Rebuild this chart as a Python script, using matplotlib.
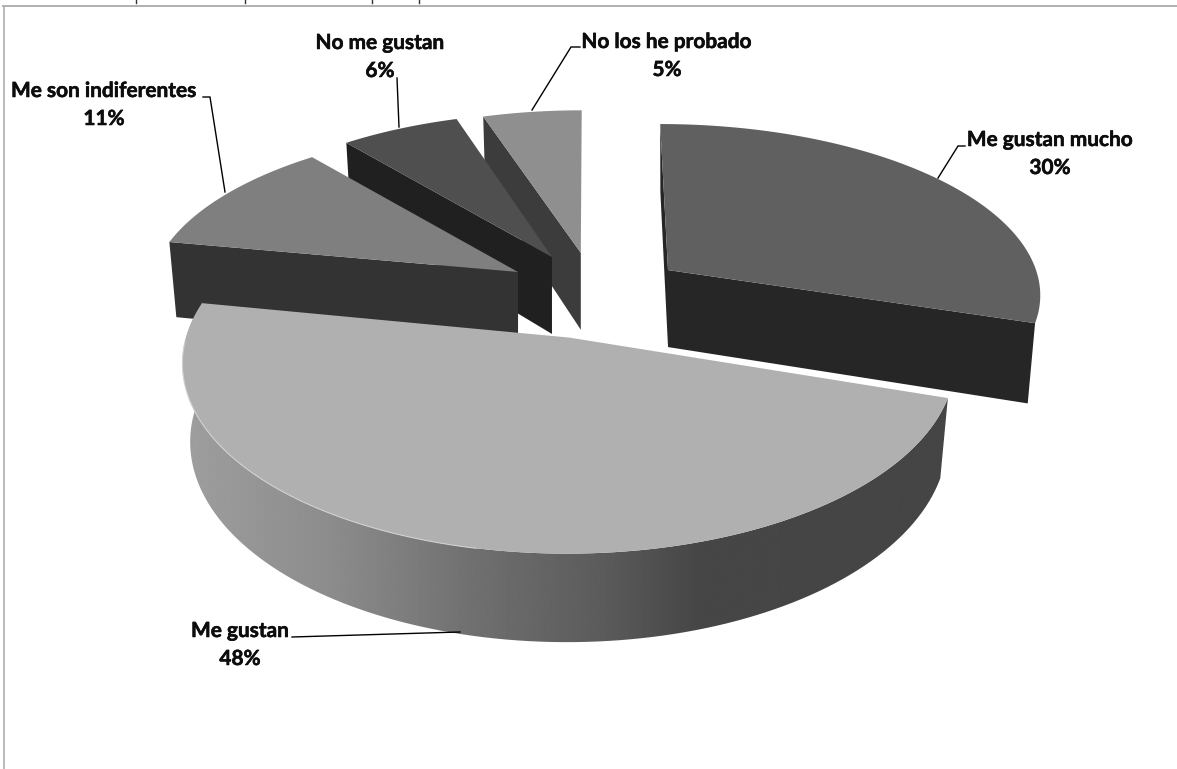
import numpy as np
import matplotlib
matplotlib.use("Agg")
import matplotlib.pyplot as plt
import matplotlib.patheffects as pe
from matplotlib.patches import PathPatch
from matplotlib.path import Path

# Survey answers, clockwise from twelve o'clock
categories = ["Me gustan mucho", "Me gustan", "Me son indiferentes", "No me gustan", "No los he probado"]
shares = [30, 48, 11, 6, 5]

# Appearance of each wedge
top_colors = ["#606060", "#b0b0b0", "#7f7f7f", "#4f4f4f", "#8f8f8f"]
wall_colors = ["#262626", "#4a4a4a", "#333333", "#202020", "#3c3c3c"]

# Projection of the tilted pie onto the canvas
CENTER = (600.0, 298.0)
EXPLODE_BASE = (372.0, 176.0)
EXPLODE_X = [0.226, 0.335, 0.256, 0.268, 0.330]
EXPLODE_Y = [0.270, 0.232, 0.290, 0.266, 0.260]
SCALE_X = [368.0, 383.0, 365.0, 360.0, 358.0]
SCALE_Y = [165.0, 188.0, 164.0, 163.0, 161.0]
PERSPECTIVE = 0.13
VANISH_X = 590.0
VANISH_PULL = 0.10
DEPTH = 77.0
BASE_SHRINK = 0.98

fig = plt.figure(figsize=(11.77, 7.69), dpi=100)
ax = fig.add_axes([0, 0, 1, 1])
ax.set_xlim(0, 1177)
ax.set_ylim(769, 0)
ax.axis("off")

# Chart frame
ax.plot([3.5, 3.5], [769, 6], color="#b4b4b4", lw=1.3)
ax.plot([3, 1177], [6, 6], color="#b0b0b0", lw=1.4)

# Tails of the clipped heading along the top edge
for x in [136, 245, 372, 419]:
    ax.plot([x, x], [0, 3.2], color="#333333", lw=1.0)

edges = np.cumsum([0] + shares) / sum(shares) * 360.0


def wedge_origin(i):
    mid = np.radians((edges[i] + edges[i + 1]) / 2)
    ox = CENTER[0] + EXPLODE_X[i] * EXPLODE_BASE[0] * np.sin(mid)
    oy = CENTER[1] - EXPLODE_Y[i] * EXPLODE_BASE[1] * np.cos(mid)
    return ox, oy


def rim(i, degrees, base=False):
    """Canvas points on the wedge's outer edge for clockwise angles in degrees."""
    ox, oy = wedge_origin(i)
    t = np.radians(degrees)
    px, py = np.sin(t), np.cos(t)
    w = 1 + PERSPECTIVE * py
    x = SCALE_X[i] * px / w + (VANISH_X - ox) * VANISH_PULL * py
    y = -SCALE_Y[i] * py / w
    if base:
        return np.column_stack([ox + BASE_SHRINK * x, oy + y + DEPTH / w])
    return np.column_stack([ox + x, oy + y])


def apex(i, base=False):
    ox, oy = wedge_origin(i)
    return np.array([[ox, oy + DEPTH if base else oy]])


def radial_wall(i, angle):
    return np.vstack([apex(i), rim(i, [angle]), rim(i, [angle], base=True), apex(i, base=True)])


def drum_shading():
    # Light from the left: the drum darkens toward the right, then levels off
    xs = np.arange(170, 961)
    return xs, np.interp(xs, [185, 330, 470, 600, 700, 950], [0.62, 0.55, 0.44, 0.36, 0.275, 0.27])


def draw_wedge(i):
    start, stop = edges[i], edges[i + 1]
    z = 2 + {4: 0, 3: 1, 2: 2, 0: 3, 1: 4}[i]

    # Inner walls that face the viewer
    if i == 0:
        ax.fill(*radial_wall(i, start).T, color=wall_colors[i], lw=0, zorder=z)
    if i in (0, 2, 3, 4):
        wall_angle = stop if i == 0 else start
        ax.fill(*radial_wall(i, wall_angle).T, color=wall_colors[i], lw=0, zorder=z)

    # Curved outer wall of the front wedge
    if i == 1:
        angles = np.arange(start, stop + 0.5, 0.5)
        band = np.vstack([rim(i, angles), rim(i, angles, base=True)[::-1]])
        patch = PathPatch(Path(np.vstack([band, band[:1]])), fc="none", ec="none",
                          transform=ax.transData)
        ax.add_patch(patch)
        xs, shade = drum_shading()
        im = ax.imshow(shade[np.newaxis, :], cmap="gray", vmin=0, vmax=1, aspect="auto",
                       extent=(xs[0], xs[-1], 700, 300), zorder=z,
                       interpolation="bilinear")
        im.set_clip_path(patch)
        ax.set_xlim(0, 1177)
        ax.set_ylim(769, 0)

    # Top face
    angles = np.linspace(start, stop, 200)
    outline = np.vstack([apex(i), rim(i, angles)])
    ax.fill(*outline.T, color=top_colors[i], lw=0, zorder=z + 0.1)

    # Pale bevel along the lit part of the large wedge's rim
    if i == 1:
        lit = np.linspace(192, stop - 12, 120)
        ax.plot(*rim(i, lit).T, color="#d0d0d0", lw=0.8, zorder=z + 0.2)


for i in [4, 3, 2, 0, 1]:
    draw_wedge(i)

# Leader lines
leaders = [
    ([938, 958, 965], [178, 146, 146]),
    ([460, 292], [632, 637]),
    ([225, 210, 203], [192, 97, 97]),
    ([399, 397], [127, 78]),
    ([532, 571, 580], [110, 47, 47]),
]
for xs, ys in leaders:
    ax.plot(xs, ys, color="black", lw=1.0, zorder=10, solid_joinstyle="miter")

# Data labels: name on the first line, share on the second
label_spots = [(1050, 154), (240, 645), (104, 105), (380, 57), (667, 56)]
for name, share, (x, y) in zip(categories, shares, label_spots):
    ax.text(x, y, f"{name}\n{share}%", ha="center", va="center", family="Lato",
            fontweight="bold", fontsize=15.0, color="#0d0d0d", linespacing=1.5, zorder=11,
            path_effects=[pe.withStroke(linewidth=0.4, foreground="#0d0d0d")])

fig.savefig("out.png", dpi=100, facecolor="white")
